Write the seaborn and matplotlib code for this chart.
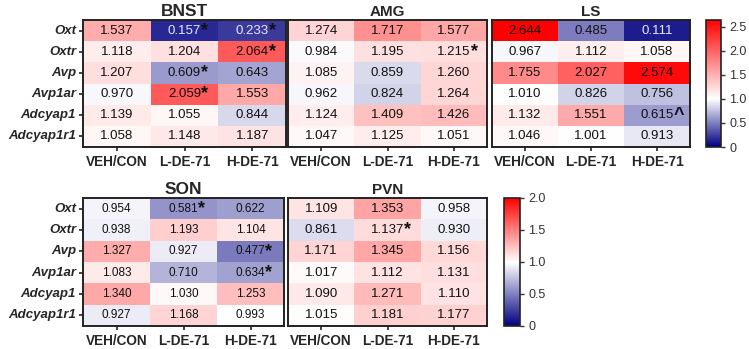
import numpy as np
import pandas as pd
import matplotlib
matplotlib.use("Agg")
import matplotlib.pyplot as plt
import seaborn as sns
from matplotlib.colors import LinearSegmentedColormap, TwoSlopeNorm

sns.set_style("white")
plt.rcParams["font.family"] = ["Liberation Sans", "DejaVu Sans"]

genes = ["Oxt", "Oxtr", "Avp", "Avp1ar", "Adcyap1", "Adcyap1r1"]
groups = ["VEH/CON", "L-DE-71", "H-DE-71"]

# fold change values, rows = genes, cols = groups
bnst = [[1.537, 0.157, 0.233], [1.118, 1.204, 2.064], [1.207, 0.609, 0.643],
        [0.970, 2.059, 1.553], [1.139, 1.055, 0.844], [1.058, 1.148, 1.187]]
amg = [[1.274, 1.717, 1.577], [0.984, 1.195, 1.215], [1.085, 0.859, 1.260],
       [0.962, 0.824, 1.264], [1.124, 1.409, 1.426], [1.047, 1.125, 1.051]]
ls = [[2.644, 0.485, 0.111], [0.967, 1.112, 1.058], [1.755, 2.027, 2.574],
      [1.010, 0.826, 0.756], [1.132, 1.551, 0.615], [1.046, 1.001, 0.913]]
son = [[0.954, 0.581, 0.622], [0.938, 1.193, 1.104], [1.327, 0.927, 0.477],
       [1.083, 0.710, 0.634], [1.340, 1.030, 1.253], [0.927, 1.168, 0.993]]
pvn = [[1.109, 1.353, 0.958], [0.861, 1.137, 0.930], [1.171, 1.345, 1.156],
       [1.017, 1.112, 1.131], [1.090, 1.271, 1.110], [1.015, 1.181, 1.177]]

# significance marks
bnst_sig = [["", "*", "*"], ["", "", "*"], ["", "*", ""], ["", "*", ""], ["", "", ""], ["", "", ""]]
amg_sig = [["", "", ""], ["", "", "*"], ["", "", ""], ["", "", ""], ["", "", ""], ["", "", ""]]
ls_sig = [["", "", ""], ["", "", ""], ["", "", ""], ["", "", ""], ["", "", "^"], ["", "", ""]]
son_sig = [["", "*", ""], ["", "", ""], ["", "", "*"], ["", "", "*"], ["", "", ""], ["", "", ""]]
pvn_sig = [["", "", ""], ["", "*", ""], ["", "", ""], ["", "", ""], ["", "", ""], ["", "", ""]]

top_max = 2.644
bottom_max = 2.0

cmap = LinearSegmentedColormap.from_list("bwr_navy", ["#000080", "#ffffff", "#ff0000"])

fig = plt.figure(figsize=(7.49, 3.49), dpi=100)


def px_axes(x0, y0, x1, y1):
    W, H = 749, 349
    return fig.add_axes([x0 / W, 1 - y1 / H, (x1 - x0) / W, (y1 - y0) / H])


panels = [
    ("BNST", bnst, bnst_sig, (83, 20, 286, 147), top_max, True, 12.5, 9.5),
    ("AMG", amg, amg_sig, (288, 20, 487, 147), top_max, False, 11, 9.5),
    ("LS", ls, ls_sig, (492, 20, 690, 147), top_max, False, 11, 9.5),
    ("SON", son, son_sig, (83, 198, 284, 326), bottom_max, True, 12.5, 8.5),
    ("PVN", pvn, pvn_sig, (288, 198, 487, 326), bottom_max, False, 11, 9.5),
]

cax_top = px_axes(706, 20, 721, 147)
cax_bot = px_axes(504, 198, 520, 326)

for name, vals, sig, box, vmax, show_y, tsize, asize in panels:
    ax = px_axes(*box)
    df = pd.DataFrame(vals, index=genes, columns=groups)
    norm = TwoSlopeNorm(vmin=0, vcenter=1.0, vmax=vmax)
    sns.heatmap(df, ax=ax, cmap=cmap, norm=norm, cbar=False, annot=False,
                linewidths=0)
    for i in range(len(genes)):
        for j in range(len(groups)):
            v = vals[i][j]
            col = "#e8e8f4" if v < 0.3 else "#111111"
            t = ax.text(j + 0.5, i + 0.5, f"{v:.3f}", ha="center", va="center",
                        fontsize=asize, color=col)
            if sig[i][j]:
                ax.annotate(sig[i][j], xy=(1.0, 0.5), xycoords=t, ha="left",
                            va="center", fontsize=13, fontweight="bold",
                            color="#111111")
    for s in ax.spines.values():
        s.set_visible(True)
        s.set_linewidth(1.4)
        s.set_color("#222222")
    ax.set_title(name, fontsize=tsize, fontweight="bold", pad=3)
    ax.set_xlabel("")
    ax.set_ylabel("")
    ax.set_xticklabels(groups, rotation=0, fontsize=9.8, fontweight="bold")
    ax.tick_params(axis="x", bottom=True, length=3, width=1.2, pad=2.5, color="#222222")
    if show_y:
        ax.set_yticklabels(genes, rotation=0, fontsize=9.5, fontweight="bold",
                           fontstyle="italic")
        ax.tick_params(axis="y", left=True, length=3, width=1.2, pad=2, color="#222222")
    else:
        ax.set_yticks([])

sm_top = plt.cm.ScalarMappable(norm=TwoSlopeNorm(vmin=0, vcenter=1, vmax=top_max), cmap=cmap)
sm_bot = plt.cm.ScalarMappable(norm=TwoSlopeNorm(vmin=0, vcenter=1, vmax=bottom_max), cmap=cmap)

for cax, sm, ticks in [(cax_top, sm_top, [0, 0.5, 1.0, 1.5, 2.0, 2.5]),
                       (cax_bot, sm_bot, [0, 0.5, 1.0, 1.5, 2.0])]:
    cb = fig.colorbar(sm, cax=cax)
    cb.ax.set_yscale("linear")
    cb.ax.set_ylim(sm.norm.vmin, sm.norm.vmax)
    cb.ax.set_yticks(ticks)
    cb.ax.set_yticklabels(["0" if t == 0 else f"{t:.1f}" for t in ticks])
    cb.ax.minorticks_off()
    cb.ax.tick_params(labelsize=9, length=3, width=1, colors="#333333", pad=3)
    cb.outline.set_linewidth(1.2)
    cb.outline.set_edgecolor("#222222")

fig.savefig("out.png", dpi=100)
